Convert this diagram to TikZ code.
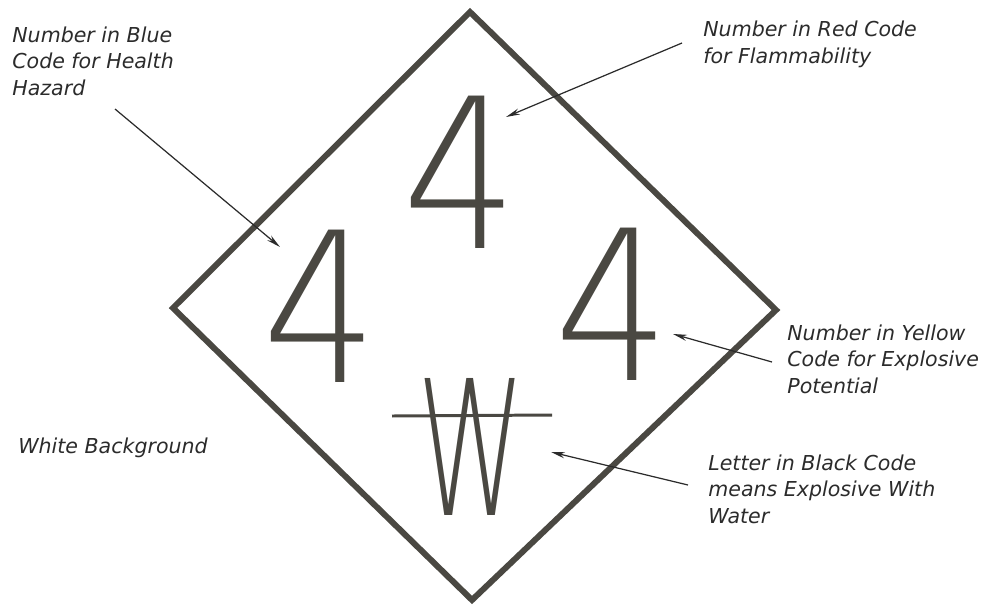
\documentclass[tikz,border=0pt]{standalone}
\usepackage{graphicx}
\usepackage{fontspec}
\setmainfont{DejaVu Sans}[ItalicFont={DejaVu Sans Oblique}]
\newfontfamily\signfont{DejaVu Sans ExtraLight}
\usetikzlibrary{arrows.meta}
\definecolor{ink}{HTML}{4A4842}
\definecolor{txt}{HTML}{2B2B2B}
\tikzset{
  note/.style={anchor=base west, align=left, inner sep=0pt, text=txt,
    font=\itshape\fontsize{11.7}{15}\selectfont},
  pointer/.style={-{Stealth[length=8pt,width=3.5pt]}, line width=0.7pt, draw=txt},
  codeglyph/.style={anchor=base, inner sep=0pt, text=ink,
    font=\signfont\fontsize{119}{119}\selectfont},
}
\begin{document}
\begin{tikzpicture}[x=0.02cm, y=-0.02cm]
    \useasboundingbox (0,0) rectangle (986,605);
    \draw[ink, line width=3.4pt, line join=miter] (470,12) -- (776,310) -- (472,600) -- (173,308) -- cycle;

    \node[codeglyph] (red) at (460,248) {\scalebox{0.87}[1]{4}};
    \node[codeglyph] (blue) at (320,382) {\scalebox{0.87}[1]{4}};
    \node[codeglyph] (yellow) at (612,380) {\scalebox{0.87}[1]{4}};
    \node[codeglyph, font=\signfont\fontsize{107}{107}\selectfont] (black) at (471,515) {\scalebox{0.58}[1]{W}};
    \draw[ink, line width=1.7pt] (392,416) -- (552,415);

    \node[note] (blueText) at (12,95) {Number in Blue\\Code for Health\\Hazard};
    \node[note] (redText) at (703,63) {Number in Red Code\\for Flammability};
    \node[note] (yellowText) at (787,393) {Number in Yellow\\Code for Explosive\\Potential};
    \node[note] (blackText) at (708,523) {Letter in Black Code\\means Explosive With\\Water};
    \node[note] (whiteText) at (18,453) {White Background};

    \coordinate (blueTail) at (115,109);
    \coordinate (blueTip) at (280,247);
    \coordinate (redTail) at (682,43);
    \coordinate (redTip) at (506,117);
    \coordinate (yellowTail) at (772,362);
    \coordinate (yellowTip) at (673,334);
    \coordinate (blackTail) at (688,485);
    \coordinate (blackTip) at (551,452);
    \draw[pointer] (blueTail) -- (blueTip);
    \draw[pointer] (redTail) -- (redTip);
    \draw[pointer] (yellowTail) -- (yellowTip);
    \draw[pointer] (blackTail) -- (blackTip);
\end{tikzpicture}
\end{document}
